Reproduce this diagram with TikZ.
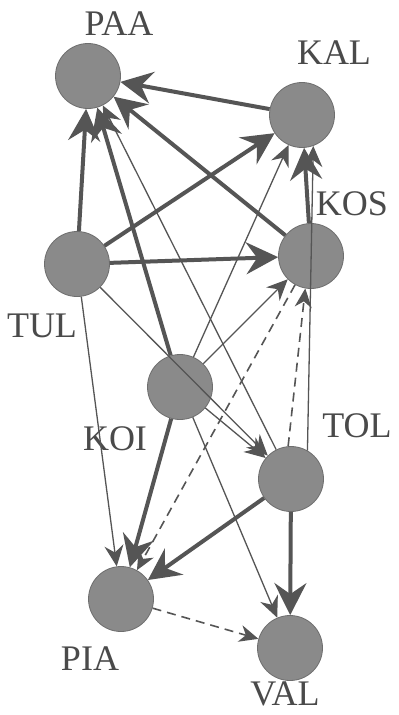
\documentclass[tikz,border=0pt]{standalone}
\usepackage{fontspec}
\setmainfont{Liberation Serif}
\usetikzlibrary{arrows.meta}
\definecolor{nodefill}{HTML}{8A8A8A}
\definecolor{nodeline}{HTML}{6E6E6E}
\definecolor{edgecol}{HTML}{555555}
\definecolor{labcol}{HTML}{4A4A4A}
\tikzset{
  agent/.style={circle, fill=nodefill, draw=nodeline, line width=0.8pt, minimum size=65pt, inner sep=0pt},
  lab/.style={text=labcol, font=\fontsize{36}{36}\selectfont, inner sep=0pt},
  strong/.style={draw=edgecol, line width=4pt, -{Stealth[length=32pt, width=32pt, inset=11pt]}},
  weak/.style={draw=edgecol, line width=1.3pt, -{Stealth[length=21pt, width=19pt, inset=7pt]}},
  hint/.style={draw=edgecol, line width=1.6pt, dash pattern=on 9pt off 6pt, -{Stealth[length=19pt, width=17pt, inset=6pt]}}
}
\begin{document}
\begin{tikzpicture}[x=1pt, y=-1pt]
\useasboundingbox[fill=white] (0,0) rectangle (399,715);

% actors
\node[agent] (PAA) at (88,76) {};
\node[agent] (KAL) at (302,115) {};
\node[agent] (TUL) at (77,264) {};
\node[agent] (KOS) at (311,256) {};
\node[agent] (KOI) at (180,387) {};
\node[agent] (TOL) at (291,479) {};
\node[agent] (PIA) at (121,599) {};
\node[agent] (VAL) at (290,648) {};

% names
\node[lab] (lPAA) at (119,24) {PAA};
\node[lab] (lKAL) at (334,53) {KAL};
\node[lab] (lKOS) at (352,204) {KOS};
\node[lab] (lTUL) at (42,326) {TUL};
\node[lab] (lKOI) at (115,439) {KOI};
\node[lab] (lTOL) at (357,426) {TOL};
\node[lab] (lPIA) at (90,659) {PIA};
\node[lab] (lVAL) at (285,694) {VAL};

% strong ties
\draw[strong] (KAL) -- (PAA);
\draw[strong] (TUL) -- (PAA);
\draw[strong] (KOI) -- (PAA);
\draw[strong] (KOS) -- (PAA);
\draw[strong] (TUL) -- (KAL);
\draw[strong] (KOS) -- (KAL);
\draw[strong] (TUL) -- (KOS);
\draw[strong] (KOI) -- (PIA);
\draw[strong] (TOL) -- (PIA);
\draw[strong] (TOL) -- (VAL);

% weak ties
\draw[weak] (TOL) -- (PAA);
\draw[weak] (KOI) -- (KAL);
\draw[weak] (TOL.60) -- (KAL.-70);
\draw[weak] (KOI) -- (KOS);
\draw[weak] (TUL) -- (TOL);
\draw[weak] (KOI) -- (TOL);
\draw[weak] (TUL) -- (PIA);
\draw[weak] (KOI) -- (VAL);

% uncertain ties
\draw[hint] (TOL.95) -- (KOS.-100);
\draw[hint] (KOS) -- (PIA);
\draw[hint] (PIA) -- (VAL);
\end{tikzpicture}
\end{document}
